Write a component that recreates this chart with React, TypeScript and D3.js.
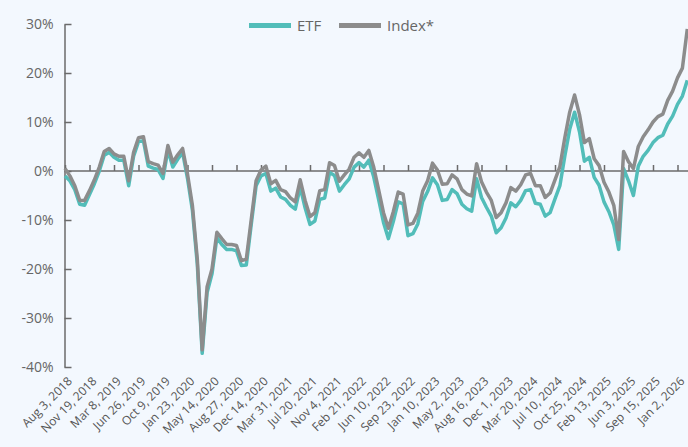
import React, { useRef, useEffect } from 'react';
import * as d3 from 'd3';

// x labels, one every 75 trading days
const tickLabels = [
  'Aug 3, 2018', 'Nov 19, 2018', 'Mar 8, 2019', 'Jun 26, 2019', 'Oct 9, 2019',
  'Jan 23, 2020', 'May 14, 2020', 'Aug 27, 2020', 'Dec 14, 2020', 'Mar 31, 2021',
  'Jul 20, 2021', 'Nov 4, 2021', 'Feb 21, 2022', 'Jun 10, 2022', 'Sep 23, 2022',
  'Jan 10, 2023', 'May 2, 2023', 'Aug 16, 2023', 'Dec 1, 2023', 'Mar 20, 2024',
  'Jul 10, 2024', 'Oct 25, 2024', 'Feb 13, 2025', 'Jun 3, 2025', 'Sep 15, 2025',
  'Jan 2, 2026',
];
const yTicks = [-40, -30, -20, -10, 0, 10, 20, 30];

// sampled every 15 trading days, cumulative return in %
const etfValues = [
  -1.0, -2.0, -3.8, -6.8, -7.0, -4.8, -2.6, 0.0, 3.2, 3.8,
  2.8, 2.2, 2.2, -3.0, 3.0, 6.0, 6.2, 1.0, 0.6, 0.3,
  -1.5, 4.3, 0.8, 2.4, 3.8, -1.5, -8.0, -19.0, -37.2, -24.8,
  -21.0, -13.6, -15.0, -16.0, -16.0, -16.3, -19.3, -19.2, -11.0, -3.0,
  -1.0, -0.5, -4.1, -3.5, -5.3, -5.8, -7.0, -7.8, -3.3, -7.5,
  -10.9, -10.2, -5.8, -5.5, -0.3, -0.9, -4.1, -2.8, -1.6, 0.8,
  1.7, 0.8, 2.2, -1.2, -5.8, -10.5, -13.8, -10.3, -6.3, -6.7,
  -13.2, -12.8, -10.8, -6.2, -4.2, -1.4, -2.8, -6.0, -5.8, -3.8,
  -4.6, -6.8, -7.7, -8.2, -1.6, -5.4, -7.4, -9.2, -12.6, -11.6,
  -9.6, -6.5, -7.3, -6.0, -4.0, -3.8, -6.6, -6.8, -9.2, -8.5,
  -5.7, -3.0, 3.0, 8.5, 12.0, 8.0, 2.0, 2.8, -1.3, -2.9,
  -6.3, -8.3, -11.0, -16.0, 0.5, -2.0, -5.0, 1.0, 3.0, 4.2,
  5.8, 6.8, 7.3, 9.6, 11.2, 13.6, 15.3, 18.5,
];
const indexValues = [
  0.5, -1.0, -3.0, -6.0, -6.0, -4.0, -1.8, 0.8, 4.0, 4.6,
  3.5, 3.0, 3.0, -2.0, 3.8, 6.8, 7.0, 1.9, 1.5, 1.2,
  -0.5, 5.2, 1.8, 3.3, 4.6, -0.6, -7.0, -18.0, -36.5, -23.6,
  -20.0, -12.5, -13.8, -15.0, -15.0, -15.2, -18.3, -18.0, -10.0, -2.0,
  0.2, 1.0, -2.6, -1.9, -3.8, -4.2, -5.5, -6.3, -1.8, -6.0,
  -9.3, -8.5, -4.0, -3.8, 1.7, 1.1, -2.1, -0.8, 0.4, 2.8,
  3.7, 2.8, 4.2, 0.8, -3.8, -8.5, -11.7, -8.3, -4.3, -4.7,
  -11.0, -10.7, -8.6, -4.1, -2.0, 1.6, 0.2, -2.7, -2.6, -0.8,
  -1.6, -3.8, -4.7, -5.1, 1.5, -2.2, -4.3, -6.0, -9.5, -8.5,
  -6.5, -3.4, -4.1, -2.8, -0.8, -0.5, -3.0, -3.0, -5.4, -4.5,
  -1.8, 0.9, 6.8, 12.0, 15.5, 11.5, 5.8, 6.6, 2.5, 1.1,
  -2.3, -4.3, -7.0, -14.0, 4.0, 1.9, 0.5, 5.0, 7.0, 8.4,
  10.0, 11.1, 11.6, 14.4, 16.3, 19.0, 21.0, 29.0,
];
const STEP = 15;
const TICK_EVERY = 75;

const WIDTH = 688;
const HEIGHT = 447;
const BG = '#f3f8fe';
const ETF_COLOR = '#52bdb9';
const INDEX_COLOR = '#8c8c8c';
const AXIS_COLOR = '#6b6b6b';
const FONT = '"Open Sans", "Noto Sans", sans-serif';

export default function App() {
  const svgRef = useRef<SVGSVGElement | null>(null);

  useEffect(() => {
    if (!svgRef.current) return;
    const svg = d3.select(svgRef.current);
    svg.selectAll('*').remove();

    svg.append('rect').attr('width', WIDTH).attr('height', HEIGHT).attr('fill', BG);

    const x = d3
      .scaleLinear()
      .domain([0, (tickLabels.length - 1) * TICK_EVERY])
      .range([65, 677.5]);
    const y = d3.scaleLinear().domain([-40, 30]).range([367, 24]);

    // y axis, ticks pointing inwards
    const yAxis = svg
      .append('g')
      .attr('transform', 'translate(64.5,0)')
      .call(
        d3
          .axisLeft(y)
          .tickValues(yTicks)
          .tickSizeInner(-7)
          .tickSizeOuter(0)
          .tickPadding(11)
          .tickFormat((d) => `${d}%`)
      );
    yAxis.select('.domain').attr('stroke', AXIS_COLOR).attr('stroke-width', 1.5);
    yAxis.selectAll('line').attr('stroke', AXIS_COLOR).attr('stroke-width', 1.5);
    yAxis
      .selectAll('text')
      .attr('fill', '#666')
      .style('font-size', '14px')
      .style('font-family', FONT);

    // zero line with small ticks pointing up
    const zero = svg
      .append('g')
      .attr('transform', `translate(0,${y(0)})`)
      .call(
        d3
          .axisTop(x)
          .tickValues(tickLabels.map((_, i) => i * TICK_EVERY))
          .tickSizeInner(6)
          .tickSizeOuter(0)
          .tickFormat(() => '')
      );
    zero.select('.domain').attr('d', `M65,0H${WIDTH}`).attr('stroke', AXIS_COLOR).attr('stroke-width', 1.5);
    zero.selectAll('line').attr('stroke', AXIS_COLOR).attr('stroke-width', 1.5);

    // date labels under the plot
    svg
      .append('g')
      .selectAll('text')
      .data(tickLabels)
      .enter()
      .append('text')
      .attr('transform', (_, i) => `translate(${x(i * TICK_EVERY) + 5},379) rotate(-45)`)
      .attr('text-anchor', 'end')
      .attr('dy', '0.35em')
      .attr('fill', '#555')
      .style('font-size', '12px')
      .style('font-family', FONT)
      .text((d) => d);

    const line = d3
      .line<number>()
      .x((_, i) => x(i * STEP))
      .y((d) => y(d));

    svg
      .append('path')
      .datum(etfValues)
      .attr('fill', 'none')
      .attr('stroke', ETF_COLOR)
      .attr('stroke-width', 3.5)
      .attr('stroke-linejoin', 'round')
      .attr('d', line);

    svg
      .append('path')
      .datum(indexValues)
      .attr('fill', 'none')
      .attr('stroke', INDEX_COLOR)
      .attr('stroke-width', 3.5)
      .attr('stroke-linejoin', 'round')
      .attr('d', line);

    // legend
    const legend = svg.append('g').style('font-family', FONT).style('font-size', '15px');
    const items = [
      { name: 'ETF', color: ETF_COLOR, x: 249 },
      { name: 'Index*', color: INDEX_COLOR, x: 339 },
    ];
    items.forEach((it) => {
      legend
        .append('line')
        .attr('x1', it.x)
        .attr('x2', it.x + 42)
        .attr('y1', 25.5)
        .attr('y2', 25.5)
        .attr('stroke', it.color)
        .attr('stroke-width', 5);
      legend
        .append('text')
        .attr('x', it.x + 48)
        .attr('y', 31)
        .attr('fill', '#666')
        .text(it.name);
    });
  }, []);

  return (
    <svg
      ref={svgRef}
      width={WIDTH}
      height={HEIGHT}
      style={{ position: 'absolute', left: 0, top: 0, display: 'block' }}
    />
  );
}
